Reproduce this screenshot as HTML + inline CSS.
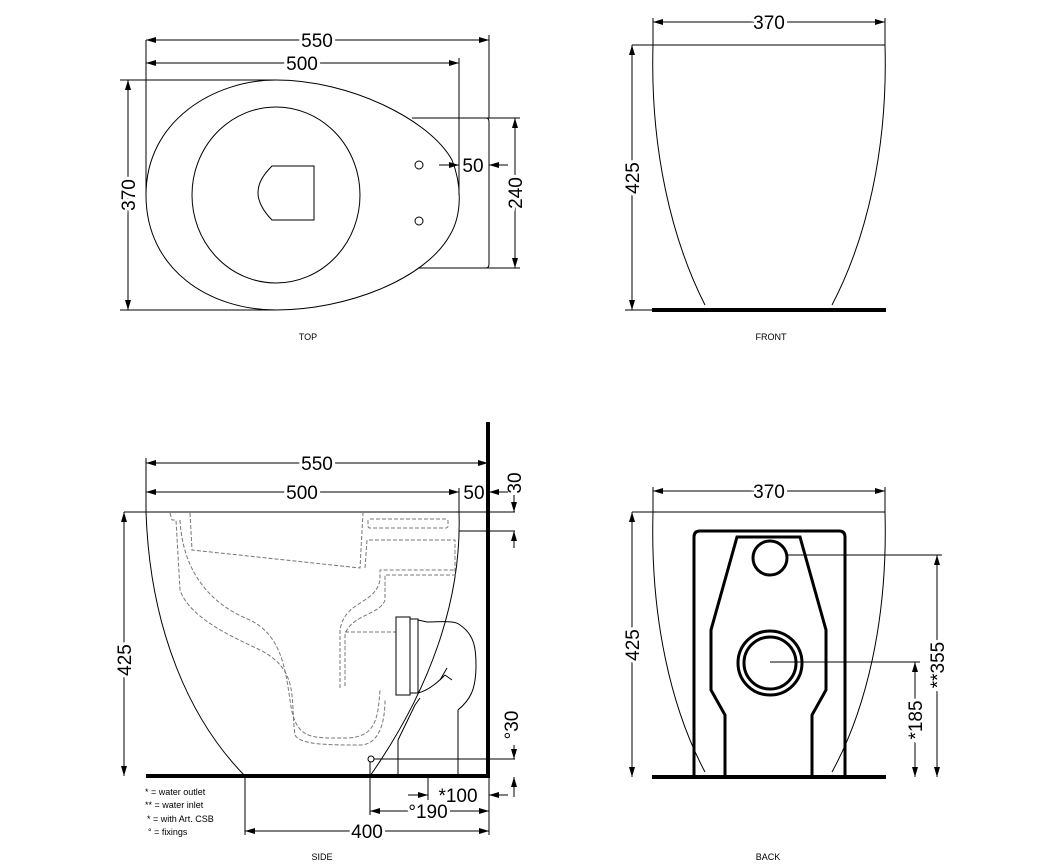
<!DOCTYPE html>
<html><head><meta charset="utf-8"><style>
html,body{margin:0;padding:0;background:#fff;}
svg{display:block;}
text{font-family:"Liberation Sans",sans-serif;fill:#000;}
.d{font-size:19px;}
.s{font-size:9px;}
</style></head><body>
<svg width="1054" height="867" viewBox="0 0 1054 867" xmlns="http://www.w3.org/2000/svg">
<defs>
<marker id="a" viewBox="0 0 10 6" refX="10" refY="3" markerWidth="10" markerHeight="6" orient="auto-start-reverse" markerUnits="userSpaceOnUse"><path d="M0,0 L10,3 L0,6 z" fill="#000"/></marker>
</defs>
<g fill="none" stroke="#000" stroke-width="1">
<!-- TOP VIEW -->
<path d="M146,195 C146,120 215,80 276,80 C350,80 430,120 452,160 C462,185 462,215 450,235 C425,280 345,310 276,310 C210,310 146,270 146,195 Z"/>
<ellipse cx="276" cy="195" rx="84" ry="88"/>
<path d="M272,166 L314,166 L314,220 L272,220 C262,210 258,200 258,193 C258,184 262,176 272,166 Z"/>
<circle cx="419" cy="165" r="4"/><circle cx="419" cy="221" r="4"/>
<path d="M412,118 L486,118 Q489,118 489,122 L489,264 Q489,268 486,268 L418,268"/>
<line x1="146" y1="40" x2="146" y2="195"/><line x1="489" y1="35" x2="489" y2="118"/>
<line x1="459" y1="58" x2="459" y2="195"/>
<line x1="146" y1="40" x2="489" y2="40" marker-start="url(#a)" marker-end="url(#a)"/>
<line x1="146" y1="63" x2="459" y2="63" marker-start="url(#a)" marker-end="url(#a)"/>
<line x1="120" y1="80" x2="276" y2="80"/><line x1="120" y1="310" x2="276" y2="310"/>
<line x1="128" y1="80" x2="128" y2="310" marker-start="url(#a)" marker-end="url(#a)"/>
<line x1="486" y1="118" x2="520" y2="118"/><line x1="486" y1="268" x2="520" y2="268"/>
<line x1="515" y1="118" x2="515" y2="268" marker-start="url(#a)" marker-end="url(#a)"/>
<line x1="439" y1="165" x2="459" y2="165" marker-end="url(#a)"/>
<line x1="508" y1="165" x2="489" y2="165" marker-end="url(#a)"/>
<!-- FRONT VIEW -->
<path d="M653,45 C650,150 672,240 705,305"/>
<path d="M885,45 C888,150 866,240 832,305"/>
<line x1="632" y1="45" x2="885" y2="45"/>
<line x1="653" y1="18" x2="653" y2="45"/><line x1="885" y1="18" x2="885" y2="45"/>
<line x1="653" y1="22" x2="885" y2="22" marker-start="url(#a)" marker-end="url(#a)"/>
<line x1="625" y1="310" x2="652" y2="310"/>
<line x1="632" y1="45" x2="632" y2="310" marker-start="url(#a)" marker-end="url(#a)"/>
<line x1="652" y1="310" x2="886" y2="310" stroke-width="4"/>
<!-- SIDE VIEW -->
<path d="M146,512 C150,630 190,720 245,776"/>
<path d="M459,512 C462,600 430,690 370,776"/>
<line x1="124" y1="512" x2="515" y2="512"/>
<line x1="459" y1="531" x2="515" y2="531"/>
<line x1="146" y1="458" x2="146" y2="512"/><line x1="459" y1="488" x2="459" y2="512"/>
<line x1="146" y1="463" x2="488" y2="463" marker-start="url(#a)" marker-end="url(#a)"/>
<line x1="146" y1="492" x2="459" y2="492" marker-start="url(#a)" marker-end="url(#a)"/>
<line x1="508" y1="492" x2="489" y2="492" marker-end="url(#a)"/>
<line x1="514" y1="495" x2="514" y2="512" marker-end="url(#a)"/>
<line x1="514" y1="548" x2="514" y2="531" marker-end="url(#a)"/>
<line x1="124" y1="512" x2="124" y2="776" marker-start="url(#a)" marker-end="url(#a)"/>
<g stroke="#777" stroke-dasharray="4,2">
<path d="M170,513 L172,520 L176,520 L180,590 C190,620 240,640 260,650 C300,670 290,700 295,735 C300,745 330,745 360,745 C380,745 385,720 385,700"/>
<path d="M190,513 L192,550 L360,568 L363,513"/>
<path d="M180,520 C182,560 200,600 250,620 C280,635 285,665 290,700 C295,740 310,738 345,738 C375,738 378,720 380,690"/>
<rect x="368" y="519" width="80" height="9" rx="2"/>
<path d="M365,568 L367,540 L455,540 L455,575 L385,575 L385,600 C380,615 350,615 345,635 L345,688"/>
<path d="M340,688 L340,630 C345,600 375,605 380,580 L380,570 L455,570"/>
<line x1="345" y1="632" x2="396" y2="632"/>
</g>
<path d="M396,617 L410,617 L410,695 L396,695 Z M410,619 L418,619 L418,693 L410,693 M418,620 L427,622 C440,622 455,620 460,625 C475,635 476,650 476,665 C476,690 470,700 458,710 L458,776"/>
<path d="M418,693 C430,690 440,680 445,675 M398,740 L415,705 L420,698 M398,740 L398,776"/>
<path d="M440,680 L447,668 M445,675 L452,680"/>
<circle cx="371" cy="759" r="3"/>
<line x1="374" y1="759" x2="515" y2="759"/>
<line x1="514" y1="745" x2="514" y2="759" marker-end="url(#a)"/>
<line x1="514" y1="797" x2="514" y2="777" marker-end="url(#a)"/>
<line x1="370" y1="762" x2="370" y2="815"/>
<line x1="428" y1="777" x2="428" y2="800"/>
<line x1="245" y1="777" x2="245" y2="835"/>
<line x1="489" y1="777" x2="489" y2="835"/>
<line x1="408" y1="795" x2="428" y2="795" marker-end="url(#a)"/>
<line x1="508" y1="795" x2="489" y2="795" marker-end="url(#a)"/>
<line x1="370" y1="811" x2="489" y2="811" marker-start="url(#a)" marker-end="url(#a)"/>
<line x1="245" y1="831" x2="489" y2="831" marker-start="url(#a)" marker-end="url(#a)"/>
<line x1="146" y1="776" x2="490" y2="776" stroke-width="4"/>
<line x1="488" y1="422" x2="488" y2="778" stroke-width="4"/>
<!-- BACK VIEW -->
<path d="M653,512 C650,620 672,710 705,772"/>
<path d="M885,512 C888,620 866,710 832,772"/>
<line x1="632" y1="512" x2="885" y2="512"/>
<line x1="653" y1="487" x2="653" y2="512"/><line x1="885" y1="487" x2="885" y2="512"/>
<line x1="653" y1="491" x2="885" y2="491" marker-start="url(#a)" marker-end="url(#a)"/>
<line x1="632" y1="512" x2="632" y2="777" marker-start="url(#a)" marker-end="url(#a)"/>
<g stroke-width="3">
<path d="M694,775 L694,537 Q694,531 700,531 L839,531 Q845,531 845,537 L845,775"/>
<path d="M725,775 L725,715 L711,690 L711,630 L737,537 L800,537 L826,630 L826,690 L812,715 L812,775"/>
<circle cx="770" cy="558" r="17"/>
<circle cx="770" cy="663" r="32"/>
<circle cx="770" cy="663" r="26"/>
</g>
<line x1="787" y1="555" x2="942" y2="555"/>
<line x1="770" y1="662" x2="920" y2="662"/>
<line x1="937" y1="555" x2="937" y2="777" marker-start="url(#a)" marker-end="url(#a)"/>
<line x1="915" y1="662" x2="915" y2="777" marker-start="url(#a)" marker-end="url(#a)"/>
<line x1="652" y1="777" x2="886" y2="777" stroke-width="4"/>
</g>
<!-- TEXT -->
<g class="d">
<text x="317" y="47" text-anchor="middle" style="paint-order:stroke" stroke="#fff" stroke-width="6">550</text>
<text x="302" y="70" text-anchor="middle" style="paint-order:stroke" stroke="#fff" stroke-width="6">500</text>
<text x="473" y="172" text-anchor="middle" style="paint-order:stroke" stroke="#fff" stroke-width="4">50</text>
<text transform="translate(135,195) rotate(-90)" text-anchor="middle" style="paint-order:stroke" stroke="#fff" stroke-width="6">370</text>
<text transform="translate(522,193) rotate(-90)" text-anchor="middle" style="paint-order:stroke" stroke="#fff" stroke-width="6">240</text>
<text x="769" y="29" text-anchor="middle" style="paint-order:stroke" stroke="#fff" stroke-width="6">370</text>
<text transform="translate(639,178) rotate(-90)" text-anchor="middle" style="paint-order:stroke" stroke="#fff" stroke-width="6">425</text>
<text x="317" y="470" text-anchor="middle" style="paint-order:stroke" stroke="#fff" stroke-width="6">550</text>
<text x="302" y="499" text-anchor="middle" style="paint-order:stroke" stroke="#fff" stroke-width="6">500</text>
<text x="474" y="499" text-anchor="middle" style="paint-order:stroke" stroke="#fff" stroke-width="4">50</text>
<text transform="translate(521,483) rotate(-90)" text-anchor="middle">30</text>
<text transform="translate(131,660) rotate(-90)" text-anchor="middle" style="paint-order:stroke" stroke="#fff" stroke-width="6">425</text>
<text transform="translate(518,725) rotate(-90)" text-anchor="middle">°30</text>
<text x="458" y="802" text-anchor="middle" style="paint-order:stroke" stroke="#fff" stroke-width="4">*100</text>
<text x="428" y="818" text-anchor="middle" style="paint-order:stroke" stroke="#fff" stroke-width="6">°190</text>
<text x="367" y="838" text-anchor="middle" style="paint-order:stroke" stroke="#fff" stroke-width="6">400</text>
<text x="769" y="498" text-anchor="middle" style="paint-order:stroke" stroke="#fff" stroke-width="6">370</text>
<text transform="translate(639,645) rotate(-90)" text-anchor="middle" style="paint-order:stroke" stroke="#fff" stroke-width="6">425</text>
<text transform="translate(944,665) rotate(-90)" text-anchor="middle" style="paint-order:stroke" stroke="#fff" stroke-width="6">**355</text>
<text transform="translate(922,720) rotate(-90)" text-anchor="middle" style="paint-order:stroke" stroke="#fff" stroke-width="6">*185</text>
</g>
<g class="s">
<text x="308" y="340" text-anchor="middle">TOP</text>
<text x="771" y="340" text-anchor="middle">FRONT</text>
<text x="322" y="860" text-anchor="middle">SIDE</text>
<text x="768" y="860" text-anchor="middle">BACK</text>
<text x="145" y="795">* = water outlet</text>
<text x="145" y="808">** = water inlet</text>
<text x="147" y="822">* = with Art. CSB</text>
<text x="148" y="835">° = fixings</text>
</g>
</svg>
</body></html>
